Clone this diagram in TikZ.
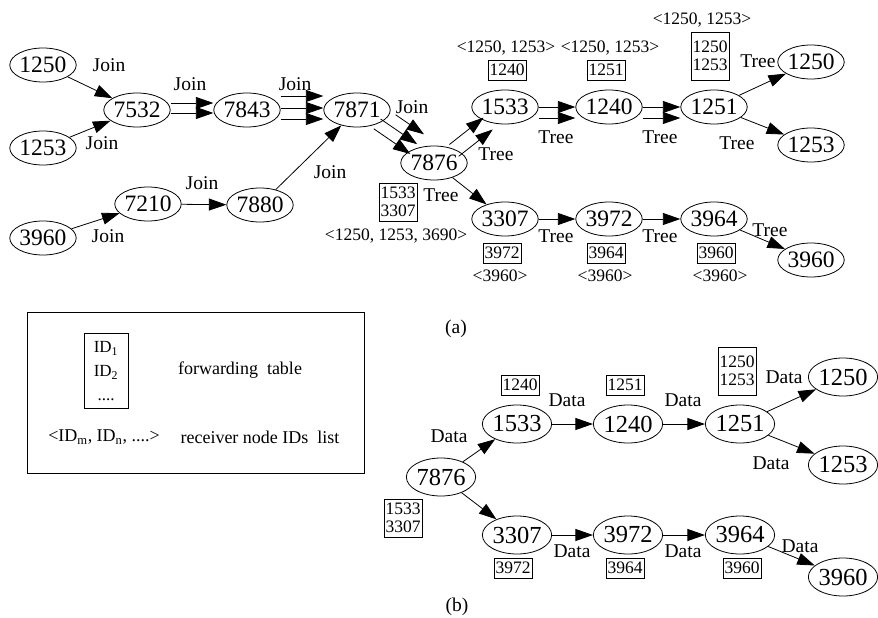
\documentclass[tikz,border=0pt]{standalone}
\usepackage{fontspec}
\setmainfont{Liberation Serif}
\usetikzlibrary{shapes.geometric, arrows.meta, positioning}

\begin{document}
\begin{tikzpicture}[
    x=1pt, y=-1pt,
    nd/.style={ellipse, draw, line width=0.8pt, inner sep=0pt, minimum width=66pt, minimum height=34pt, font=\fontsize{23.5}{25}\selectfont},
    ndb/.style={nd, minimum width=69pt, minimum height=38pt, font=\fontsize{24.5}{26}\selectfont},
    tab/.style={rectangle, draw, line width=0.7pt, inner xsep=1.5pt, inner ysep=1pt, minimum height=20pt, align=center, font=\fontsize{17.5}{18}\selectfont},
    lst/.style={inner sep=0pt, font=\fontsize{17.5}{18}\selectfont},
    lab/.style={inner sep=0pt, font=\fontsize{19.5}{20}\selectfont},
    arrow/.style={-{Triangle[length=17.5pt, width=12pt]}, line width=0.8pt}
]
\useasboundingbox (0,0) rectangle (878,618);

% (a) join and tree phase
\node[nd] (s1250) at (43,65) {1250};
\node[nd] (s1253) at (43,148) {1253};
\node[nd] (s3960) at (43,238) {3960};
\node[nd] (n7532) at (137,110) {7532};
\node[nd] (n7843) at (247,110) {7843};
\node[nd] (n7871) at (357,110) {7871};
\node[nd] (n7210) at (148,204) {7210};
\node[nd] (n7880) at (260,205) {7880};
\node[nd] (n7876) at (434,163) {7876};
\node[nd] (n1533) at (505,107) {1533};
\node[nd] (n1240) at (609,107) {1240};
\node[nd] (n1251) at (714,107) {1251};
\node[nd] (r1250) at (811,62) {1250};
\node[nd] (r1253) at (811,145) {1253};
\node[nd] (n3307) at (505,219) {3307};
\node[nd] (n3972) at (609,219) {3972};
\node[nd] (n3964) at (714,219) {3964};
\node[nd] (r3960) at (811,260) {3960};

\draw[arrow] (s1250) -- (n7532);
\draw[arrow] (s1253) -- (n7532);
\draw[arrow] (s3960) -- (n7210);
\draw[arrow] (n7210) -- (n7880);
\draw[arrow] (n7880) -- (n7871);
\draw[arrow, transform canvas={shift={(0pt,7pt)}}] (n7532) -- (n7843);
\draw[arrow, transform canvas={shift={(0pt,-3pt)}}] (n7532) -- (n7843);
\foreach \dy in {14,2,-9}
    \draw[arrow, transform canvas={shift={(0pt,\dy pt)}}] (n7843) -- (n7871);
\draw[arrow, transform canvas={shift={(-3.4pt,-4.9pt)}}] (n7871) -- (n7876);
\draw[arrow, transform canvas={shift={(3.4pt,4.9pt)}}] (n7871) -- (n7876);
\draw[arrow, shorten <=10pt, transform canvas={shift={(10.2pt,14.8pt)}}] (n7871) -- (n7876);
\draw[arrow, transform canvas={shift={(-3.1pt,3.9pt)}}] (n7876) -- (n1533);
\draw[arrow, transform canvas={shift={(6.2pt,-7.9pt)}}] (n7876) -- (n1533);
\draw[arrow] (n1533) -- (n1240);
\draw[arrow, transform canvas={shift={(0pt,-11pt)}}] (n1533) -- (n1240);
\draw[arrow] (n1240) -- (n1251);
\draw[arrow, transform canvas={shift={(0pt,-11pt)}}] (n1240) -- (n1251);
\draw[arrow] (n1251) -- (r1250);
\draw[arrow] (n1251) -- (r1253);
\draw[arrow] (n7876) -- (n3307);
\draw[arrow] (n3307) -- (n3972);
\draw[arrow] (n3972) -- (n3964);
\draw[arrow] (n3964) -- (r3960);

\node[lab] (j1) at (109,65) {Join};
\node[lab] (j2) at (102,143) {Join};
\node[lab] (j3) at (190,84) {Join};
\node[lab] (j4) at (295,84) {Join};
\node[lab] (j5) at (330,172) {Join};
\node[lab] (j6) at (202,183) {Join};
\node[lab] (j7) at (108,236) {Join};
\node[lab] (j8) at (412,107) {Join};
\node[lab] (t1) at (496,154) {Tree};
\node[lab] (t2) at (556,137) {Tree};
\node[lab] (t3) at (660,137) {Tree};
\node[lab] (t4) at (758,61) {Tree};
\node[lab] (t5) at (737,143) {Tree};
\node[lab] (t6) at (441,195) {Tree};
\node[lab] (t7) at (556,236) {Tree};
\node[lab] (t8) at (660,236) {Tree};
\node[lab] (t9) at (770,230) {Tree};

\node[lst] (l1533) at (506,48) {<1250, 1253>};
\node[lst] (l1240) at (610,48) {<1250, 1253>};
\node[lst] (l1251) at (702,20) {<1250, 1253>};
\node[tab] (f1533) at (507,70) {1240};
\node[tab] (f1240) at (606,70) {1251};
\node[tab, minimum height=48pt] (f1251) at (710,56) {1250\\1253};
\node[tab, minimum height=38pt] (f7876) at (398,202) {1533\\3307};
\node[lst] (l7876) at (396,236) {<1250, 1253, 3690>};
\node[tab] (f3307) at (502,253) {3972};
\node[tab] (f3972) at (606,253) {3964};
\node[tab] (f3964) at (716,253) {3960};
\node[lst] (l3307) at (500,276) {<3960>};
\node[lst] (l3972) at (605,276) {<3960>};
\node[lst] (l3964) at (720,276) {<3960>};

\node[lab] (capa) at (456,329) {(a)};

% legend
\draw[line width=0.8pt] (27,312) rectangle (364,473);
\node[tab, minimum width=44pt, minimum height=75pt, font=\fontsize{17}{24}\selectfont] (idtab) at (106,371)
    {ID\textsubscript{1}\\ID\textsubscript{2}\\....};
\node[lab, font=\fontsize{18}{20}\selectfont] (fwd) at (240,370) {forwarding\ \ table};
\node[lab, font=\fontsize{18}{20}\selectfont] (idl) at (104,437)
    {<ID\textsubscript{m}, ID\textsubscript{n}, ....>};
\node[lab, font=\fontsize{18}{20}\selectfont] (rcv) at (260,437) {receiver node IDs\ \ list};

% (b) data phase
\node[ndb] (d7876) at (441,477) {7876};
\node[ndb] (d1533) at (517,424) {1533};
\node[ndb] (d1240) at (628,424) {1240};
\node[ndb] (d1251) at (740,424) {1251};
\node[ndb] (d1250) at (843,377) {1250};
\node[ndb] (d1253) at (843,465) {1253};
\node[ndb] (d3307) at (517,535) {3307};
\node[ndb] (d3972) at (628,535) {3972};
\node[ndb] (d3964) at (740,535) {3964};
\node[ndb] (d3960) at (843,577) {3960};

\draw[arrow] (d7876) -- (d1533);
\draw[arrow] (d7876) -- (d3307);
\draw[arrow] (d1533) -- (d1240);
\draw[arrow] (d1240) -- (d1251);
\draw[arrow] (d1251) -- (d1250);
\draw[arrow] (d1251) -- (d1253);
\draw[arrow] (d3307) -- (d3972);
\draw[arrow] (d3972) -- (d3964);
\draw[arrow] (d3964) -- (d3960);

\node[lab] (da1) at (449,436) {Data};
\node[lab] (da2) at (567,400) {Data};
\node[lab] (da3) at (683,400) {Data};
\node[lab] (da4) at (784,377) {Data};
\node[lab] (da5) at (771,463) {Data};
\node[lab] (da6) at (572,551) {Data};
\node[lab] (da7) at (683,551) {Data};
\node[lab] (da8) at (800,546) {Data};

\node[tab] (g1533) at (520,385) {1240};
\node[tab] (g1240) at (625,385) {1251};
\node[tab, minimum height=48pt] (g1251) at (737,371) {1250\\1253};
\node[tab, minimum height=38pt] (g7876) at (403,518) {1533\\3307};
\node[tab] (g3307) at (513,568) {3972};
\node[tab] (g3972) at (625,568) {3964};
\node[tab] (g3964) at (742,568) {3960};

\node[lab] (capb) at (457,607) {(b)};
\end{tikzpicture}
\end{document}
